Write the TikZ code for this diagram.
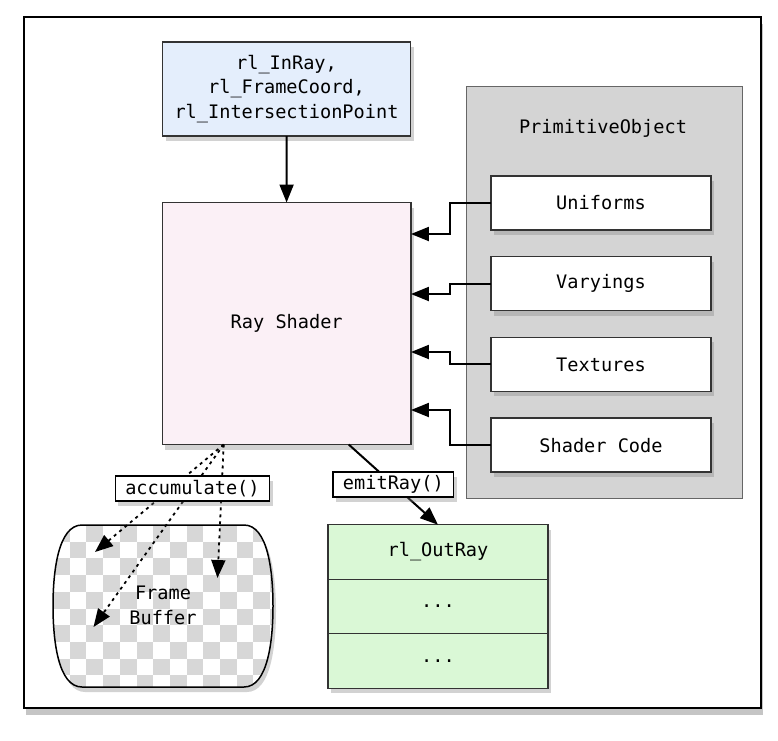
\documentclass[tikz,border=0pt]{standalone}
\usepackage{fontspec}
\setmainfont{DejaVu Sans Mono}
\usetikzlibrary{arrows.meta,shadows,positioning}
\definecolor{inblue}{HTML}{E4EEFC}
\definecolor{shaderpink}{HTML}{FBF0F6}
\definecolor{outgreen}{HTML}{DAF8D6}
\definecolor{groupgray}{HTML}{D4D4D4}
\definecolor{checkgray}{HTML}{D7D7D7}

\begin{document}
\begin{tikzpicture}[x=1pt,y=-1pt,font=\fontsize{18.6}{24.7}\selectfont,>={Triangle[length=18pt,width=14pt]},
    cast/.style={drop shadow={shadow xshift=3pt,shadow yshift=-5pt,opacity=.35}},
    box/.style={draw=black!80,line width=1.3pt,outer sep=0pt,cast,align=center},
    member/.style={box,fill=white,minimum width=220pt,minimum height=54pt},
    outrow/.style={box,fill=outgreen,minimum width=220pt,minimum height=54.5pt},
    tag/.style={draw=black,fill=white,solid,line width=1.5pt,inner xsep=10pt,inner ysep=1pt,minimum height=25pt,cast},
    feed/.style={->,line width=2pt},
    acc/.style={->,line width=1.8pt,dash pattern=on 3pt off 4pt}]
    \useasboundingbox (0,0) rectangle (778,740);
    \fill[white] (0,0) rectangle (778,740);
    \draw[line width=2pt,fill=white,drop shadow={shadow xshift=2pt,shadow yshift=-7pt,opacity=.45}] (24,17) rectangle (761,708);

    \node[box,fill=inblue,minimum width=248pt,minimum height=94pt] (in) at (286.5,89) {rl\_InRay,\\rl\_FrameCoord,\\rl\_IntersectionPoint};
    \node[box,fill=shaderpink,minimum width=248.5pt,minimum height=242pt] (rs) at (286.7,323.5) {Ray Shader};
    \draw[feed] (in) -- (rs);

    \node[draw=black!60,line width=1pt,fill=groupgray,minimum width=276pt,minimum height=412pt] (po) at (604,292) {};
    \node (poname) at (603,128) {PrimitiveObject};
    \node[member] (uni) at (601,203) {Uniforms};
    \node[member,below=26.7pt of uni] (var) {Varyings};
    \node[member,below=26.7pt of var] (tex) {Textures};
    \node[member,below=26.7pt of tex] (code) {Shader Code};

    \draw[feed] (uni.west) -- ++(-41,0) |- ([yshift=89.5pt]rs.east);
    \draw[feed] (var.west) -- ++(-41,0) |- ([yshift=29.5pt]rs.east);
    \draw[feed] (tex.west) -- ++(-41,0) |- ([yshift=-28.5pt]rs.east);
    \draw[feed] (code.west) -- ++(-41,0) |- ([yshift=-86.5pt]rs.east);

    \draw[line width=1.5pt,fill=white,cast,path picture={
        \foreach \i in {0,2,...,14} \foreach \j in {0,2,...,10} {
            \fill[checkgray] (53+\i*16.7,525+\j*16.7) rectangle ++(16.7,16.7);
            \fill[checkgray] (69.7+\i*16.7,541.7+\j*16.7) rectangle ++(16.7,16.7);
        }}]
        (82,525) -- (244,525) .. controls (268,525) and (273,572) .. (273,606) .. controls (273,640) and (268,687) .. (244,687)
        -- (82,687) .. controls (58,687) and (53,640) .. (53,606) .. controls (53,572) and (58,525) .. (82,525) -- cycle;
    \node[align=center] (fb) at (163,605) {Frame\\Buffer};

    \coordinate (fb1) at (95,552);
    \coordinate (fb2) at (93.5,627);
    \coordinate (fb3) at (217.5,578);
    \draw[acc] ([xshift=-63pt]rs.south) -- (fb1);
    \draw[acc] ([xshift=-63pt]rs.south) -- (fb3);
    \draw[acc] ([xshift=-63pt]rs.south) -- node[tag,pos=.24] (accn) {accumulate()} (fb2);

    \node[outrow] (o1) at (438,552) {rl\_OutRay};
    \node[outrow,below=0pt of o1] (o2) {...};
    \node[outrow,below=0pt of o2] (o3) {...};
    \draw[feed] ([xshift=62pt]rs.south) -- node[tag] (emit) {emitRay()} (o1.north);
\end{tikzpicture}
\end{document}
